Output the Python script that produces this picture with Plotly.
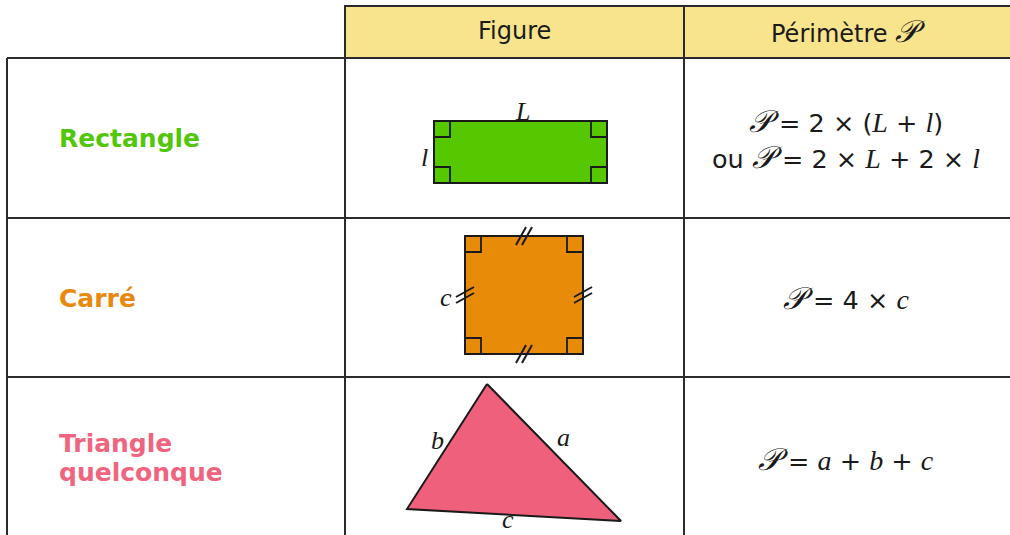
import plotly.graph_objects as go

# table grid (pixel space of the picture)
col_edges = [7, 345, 684, 1012]
row_edges = [6, 58, 218, 377, 540]
header_labels = ["Figure", "Périmètre 𝒫"]

row_names = [["Rectangle"], ["Carré"], ["Triangle", "quelconque"]]
row_colors = ["#52c70a", "#e8890c", "#ef6580"]
row_label_y = [[138], [298], [443, 472]]

# figures
rect_box = [434, 121, 607, 183]       # x0, y0, x1, y1
square_box = [465, 236, 583, 354]
tri_x = [487, 407, 621]
tri_y = [384, 509, 521]
fill_colors = ["#55c800", "#e88b08", "#ee607b"]

side_labels = [("L", 522, 111), ("l", 424, 157), ("c", 446, 297),
               ("b", 437, 440), ("a", 563, 437), ("c", 508, 519)]

SERIF = "<span style='font-family:Liberation Serif;font-size:28px'><i>%s</i></span>"
P = "<span style='font-family:DejaVu Serif;font-size:31px'><i>𝒫</i></span>"
formulas = [
    (P + " = 2 × (" + SERIF % "L" + " + " + SERIF % "l" + ")", 121),
    ("ou " + P + " = 2 × " + SERIF % "L" + " + 2 × " + SERIF % "l", 157),
    (P + " = 4 × " + SERIF % "c", 298),
    (P + " = " + SERIF % "a" + " + " + SERIF % "b" + " + " + SERIF % "c", 459),
]

line = dict(color="#2b2b2b", width=2)
fig = go.Figure()
shapes = []

# header cells
shapes.append(dict(type="rect", x0=col_edges[1], x1=col_edges[3], y0=row_edges[0], y1=row_edges[1],
                   fillcolor="#f8e48c", line=line, layer="below"))
shapes.append(dict(type="line", x0=col_edges[2], x1=col_edges[2], y0=row_edges[0], y1=row_edges[-1], line=line))
shapes.append(dict(type="line", x0=col_edges[1], x1=col_edges[1], y0=row_edges[0], y1=row_edges[-1], line=line))
shapes.append(dict(type="line", x0=col_edges[0], x1=col_edges[0], y0=row_edges[1], y1=row_edges[-1], line=line))
for y in row_edges[1:4]:
    shapes.append(dict(type="line", x0=col_edges[0], x1=col_edges[3], y0=y, y1=y, line=line))

# rectangle and square with right-angle marks
def corner_marks(box, s):
    x0, y0, x1, y1 = box
    out = []
    for cx, dx in ((x0, s), (x1, -s)):
        for cy, dy in ((y0, s), (y1, -s)):
            out.append(dict(type="path", path=f"M {cx + dx} {cy} L {cx + dx} {cy + dy} L {cx} {cy + dy}",
                            line=dict(color="#1a1a1a", width=1.8)))
    return out

for box, col in ((rect_box, fill_colors[0]), (square_box, fill_colors[1])):
    shapes.append(dict(type="rect", x0=box[0], y0=box[1], x1=box[2], y1=box[3],
                       fillcolor=col, line=dict(color="#1a1a1a", width=2)))
    shapes += corner_marks(box, 16)

# equal-side ticks on the square
x0, y0, x1, y1 = square_box
mx, my = (x0 + x1) / 2, (y0 + y1) / 2
for cx, cy in ((mx, y0), (mx, y1)):
    for o in (-3, 3):
        shapes.append(dict(type="line", x0=cx + o - 5, y0=cy + 9, x1=cx + o + 5, y1=cy - 9,
                           line=dict(color="#1a1a1a", width=2)))
for cx, cy in ((x0, my), (x1, my)):
    for o in (-3, 3):
        shapes.append(dict(type="line", x0=cx - 9, y0=cy + o + 5, x1=cx + 9, y1=cy + o - 5,
                           line=dict(color="#1a1a1a", width=2)))

fig.add_trace(go.Scatter(x=tri_x + [tri_x[0]], y=tri_y + [tri_y[0]], fill="toself",
                         fillcolor=fill_colors[2], mode="lines",
                         line=dict(color="#1a1a1a", width=2), hoverinfo="skip", showlegend=False))

# text
ann = []
for i, lab in enumerate(header_labels):
    txt = lab.replace("𝒫", P)
    ann.append(dict(x=(col_edges[i + 1] + col_edges[i + 2]) / 2, y=31, text=txt, showarrow=False,
                    font=dict(family="DejaVu Sans", size=24, color="#1a1a1a")))
for names, col, ys in zip(row_names, row_colors, row_label_y):
    for name, y in zip(names, ys):
        ann.append(dict(x=57, y=y, text=name, showarrow=False, xanchor="left",
                        font=dict(family="DejaVu Sans", size=25, color=col, weight="bold")))
for txt, y in formulas:
    ann.append(dict(x=(col_edges[2] + col_edges[3]) / 2 - 2, y=y, text=txt, showarrow=False,
                    font=dict(family="DejaVu Sans", size=25.5, color="#1a1a1a")))
for t, x, y in side_labels:
    ann.append(dict(x=x, y=y, text=t, showarrow=False,
                    font=dict(family="Liberation Serif", size=26, color="#1a1a1a", style="italic")))

fig.update_layout(
    width=1010, height=535, margin=dict(l=0, r=0, t=0, b=0),
    paper_bgcolor="white", plot_bgcolor="white",
    xaxis=dict(range=[0, 1010], visible=False, fixedrange=True),
    yaxis=dict(range=[535, 0], visible=False, fixedrange=True),
    shapes=shapes, annotations=ann,
)
fig.write_html("out.html", config={"displayModeBar": False},
               post_script="document.body.style.margin='0';")
